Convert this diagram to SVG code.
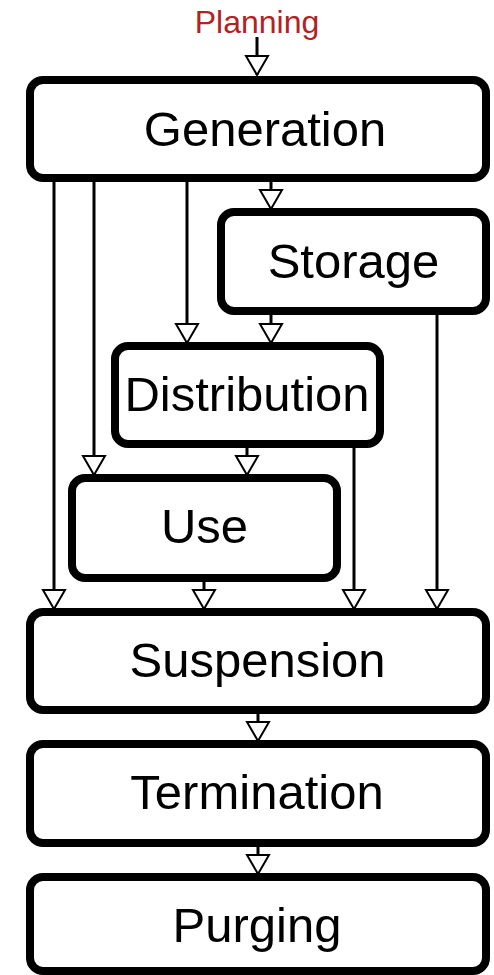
<svg xmlns="http://www.w3.org/2000/svg" width="494" height="975" viewBox="0 0 494 975">
<style>
.box{fill:#fff;stroke:#000;stroke-width:8}
.lbl{font-family:"Liberation Sans",Arial,sans-serif;font-size:49px;fill:#000;text-anchor:middle}
.conn{stroke:#000;stroke-width:3;fill:none;marker-end:url(#arr)}
</style>
<defs>
<marker id="arr" markerUnits="userSpaceOnUse" viewBox="-2 -13 23 26" markerWidth="23" markerHeight="26" refX="19" refY="0" orient="auto">
<path d="M0,-11 L19,0 L0,11 Z" fill="#fff" stroke="#000" stroke-width="2" stroke-linejoin="miter"/>
</marker>
</defs>
<rect width="494" height="975" fill="#fff"/>
<text x="257" y="33" font-family="Liberation Sans, Arial, sans-serif" font-size="32" fill="#b22222" text-anchor="middle">Planning</text>
<g id="connectors">
<line class="conn" x1="257" y1="37" x2="257" y2="75"/>
<line class="conn" x1="271" y1="178" x2="271" y2="209"/>
<line class="conn" x1="187" y1="178" x2="187" y2="343"/>
<line class="conn" x1="94" y1="178" x2="94" y2="475"/>
<line class="conn" x1="54" y1="178" x2="54" y2="609"/>
<line class="conn" x1="271" y1="311" x2="271" y2="343"/>
<line class="conn" x1="437" y1="311" x2="437" y2="609"/>
<line class="conn" x1="247" y1="444" x2="247" y2="475"/>
<line class="conn" x1="354" y1="444" x2="354" y2="609"/>
<line class="conn" x1="204" y1="578" x2="204" y2="609"/>
<line class="conn" x1="258" y1="710" x2="258" y2="741"/>
<line class="conn" x1="258" y1="843" x2="258" y2="874"/>
</g>
<g id="generation"><rect class="box" x="30" y="80" width="456" height="98" rx="13"/><text class="lbl" x="265" y="146">Generation</text></g>
<g id="storage"><rect class="box" x="221" y="212" width="265" height="99" rx="13"/><text class="lbl" x="353.5" y="278">Storage</text></g>
<g id="distribution"><rect class="box" x="115" y="346" width="265" height="98" rx="13"/><text class="lbl" x="247" y="411">Distribution</text></g>
<g id="use"><rect class="box" x="72" y="478" width="265" height="100" rx="13"/><text class="lbl" x="204.5" y="543">Use</text></g>
<g id="suspension"><rect class="box" x="30" y="612" width="456" height="98" rx="13"/><text class="lbl" x="257.5" y="677">Suspension</text></g>
<g id="termination"><rect class="box" x="30" y="744" width="456" height="99" rx="13"/><text class="lbl" x="257" y="809">Termination</text></g>
<g id="purging"><rect class="box" x="30" y="877" width="456" height="94" rx="13"/><text class="lbl" x="257" y="942">Purging</text></g>
</svg>
